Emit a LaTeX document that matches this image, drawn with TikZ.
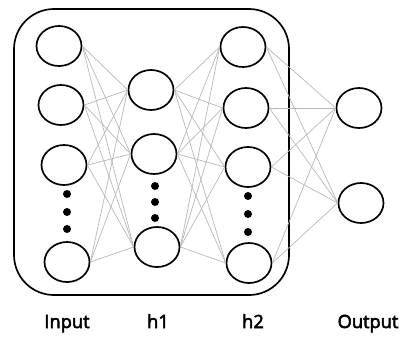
\documentclass[tikz,border=0pt]{standalone}
\usepackage{fontspec}
\setmainfont{Open Sans}
\newfontfamily\labelfont{Open Sans}[FakeBold=3]
\usetikzlibrary{shapes.geometric}

\tikzset{
  neuron/.style={draw=black, line width=1.2pt, ellipse, inner sep=0pt,
    minimum width=1.125cm, minimum height=1cm},
  edge/.style={draw=black!28, line width=0.5pt},
  layerlabel/.style={font=\labelfont\fontsize{13}{15}\selectfont, anchor=base}
}

\begin{document}
\begin{tikzpicture}[x=0.025cm, y=-0.025cm]
  \useasboundingbox (0,0) rectangle (400,338);

  % hidden part of the net
  \draw[line width=1.2pt, rounded corners=1cm] (14,9) rectangle (289,295);

  % input layer
  \node[neuron] (i1) at (59,46) {};
  \node[neuron] (i2) at (61,105) {};
  \node[neuron] (i3) at (64,165) {};
  \node[neuron] (i4) at (67,262) {};

  % first hidden layer
  \node[neuron] (a1) at (151,90) {};
  \node[neuron] (a2) at (154,154) {};
  \node[neuron] (a3) at (157,247) {};

  % second hidden layer
  \node[neuron] (b1) at (243,47) {};
  \node[neuron] (b2) at (246,108) {};
  \node[neuron] (b3) at (248,167) {};
  \node[neuron] (b4) at (249,263) {};

  % output layer
  \node[neuron] (o1) at (359,108) {};
  \node[neuron] (o2) at (361,203) {};

  % weights
  \foreach \a in {i1,i2,i3,i4}
    \foreach \b in {a1,a2,a3}
      \draw[edge] (\a.east) -- (\b.west);
  \foreach \a in {a1,a2,a3}
    \foreach \b in {b1,b2,b3,b4}
      \draw[edge] (\a.east) -- (\b.west);
  \foreach \a in {b1,b2,b3,b4}
    \foreach \b in {o1,o2}
      \draw[edge] (\a.east) -- (\b.west);

  % ellipsis dots
  \foreach \y in {194,212,229} \fill (67,\y) circle (0.1cm);
  \foreach \y in {186,202,218} \fill (155,\y) circle (0.1cm);
  \foreach \y in {196,214,232} \fill (248,\y) circle (0.1cm);

  % layer names
  \node[layerlabel] (lin) at (67,328) {Input};
  \node[layerlabel] (lh1) at (158,328) {h1};
  \node[layerlabel] (lh2) at (253,328) {h2};
  \node[layerlabel] (lout) at (368,328) {Output};
\end{tikzpicture}
\end{document}
